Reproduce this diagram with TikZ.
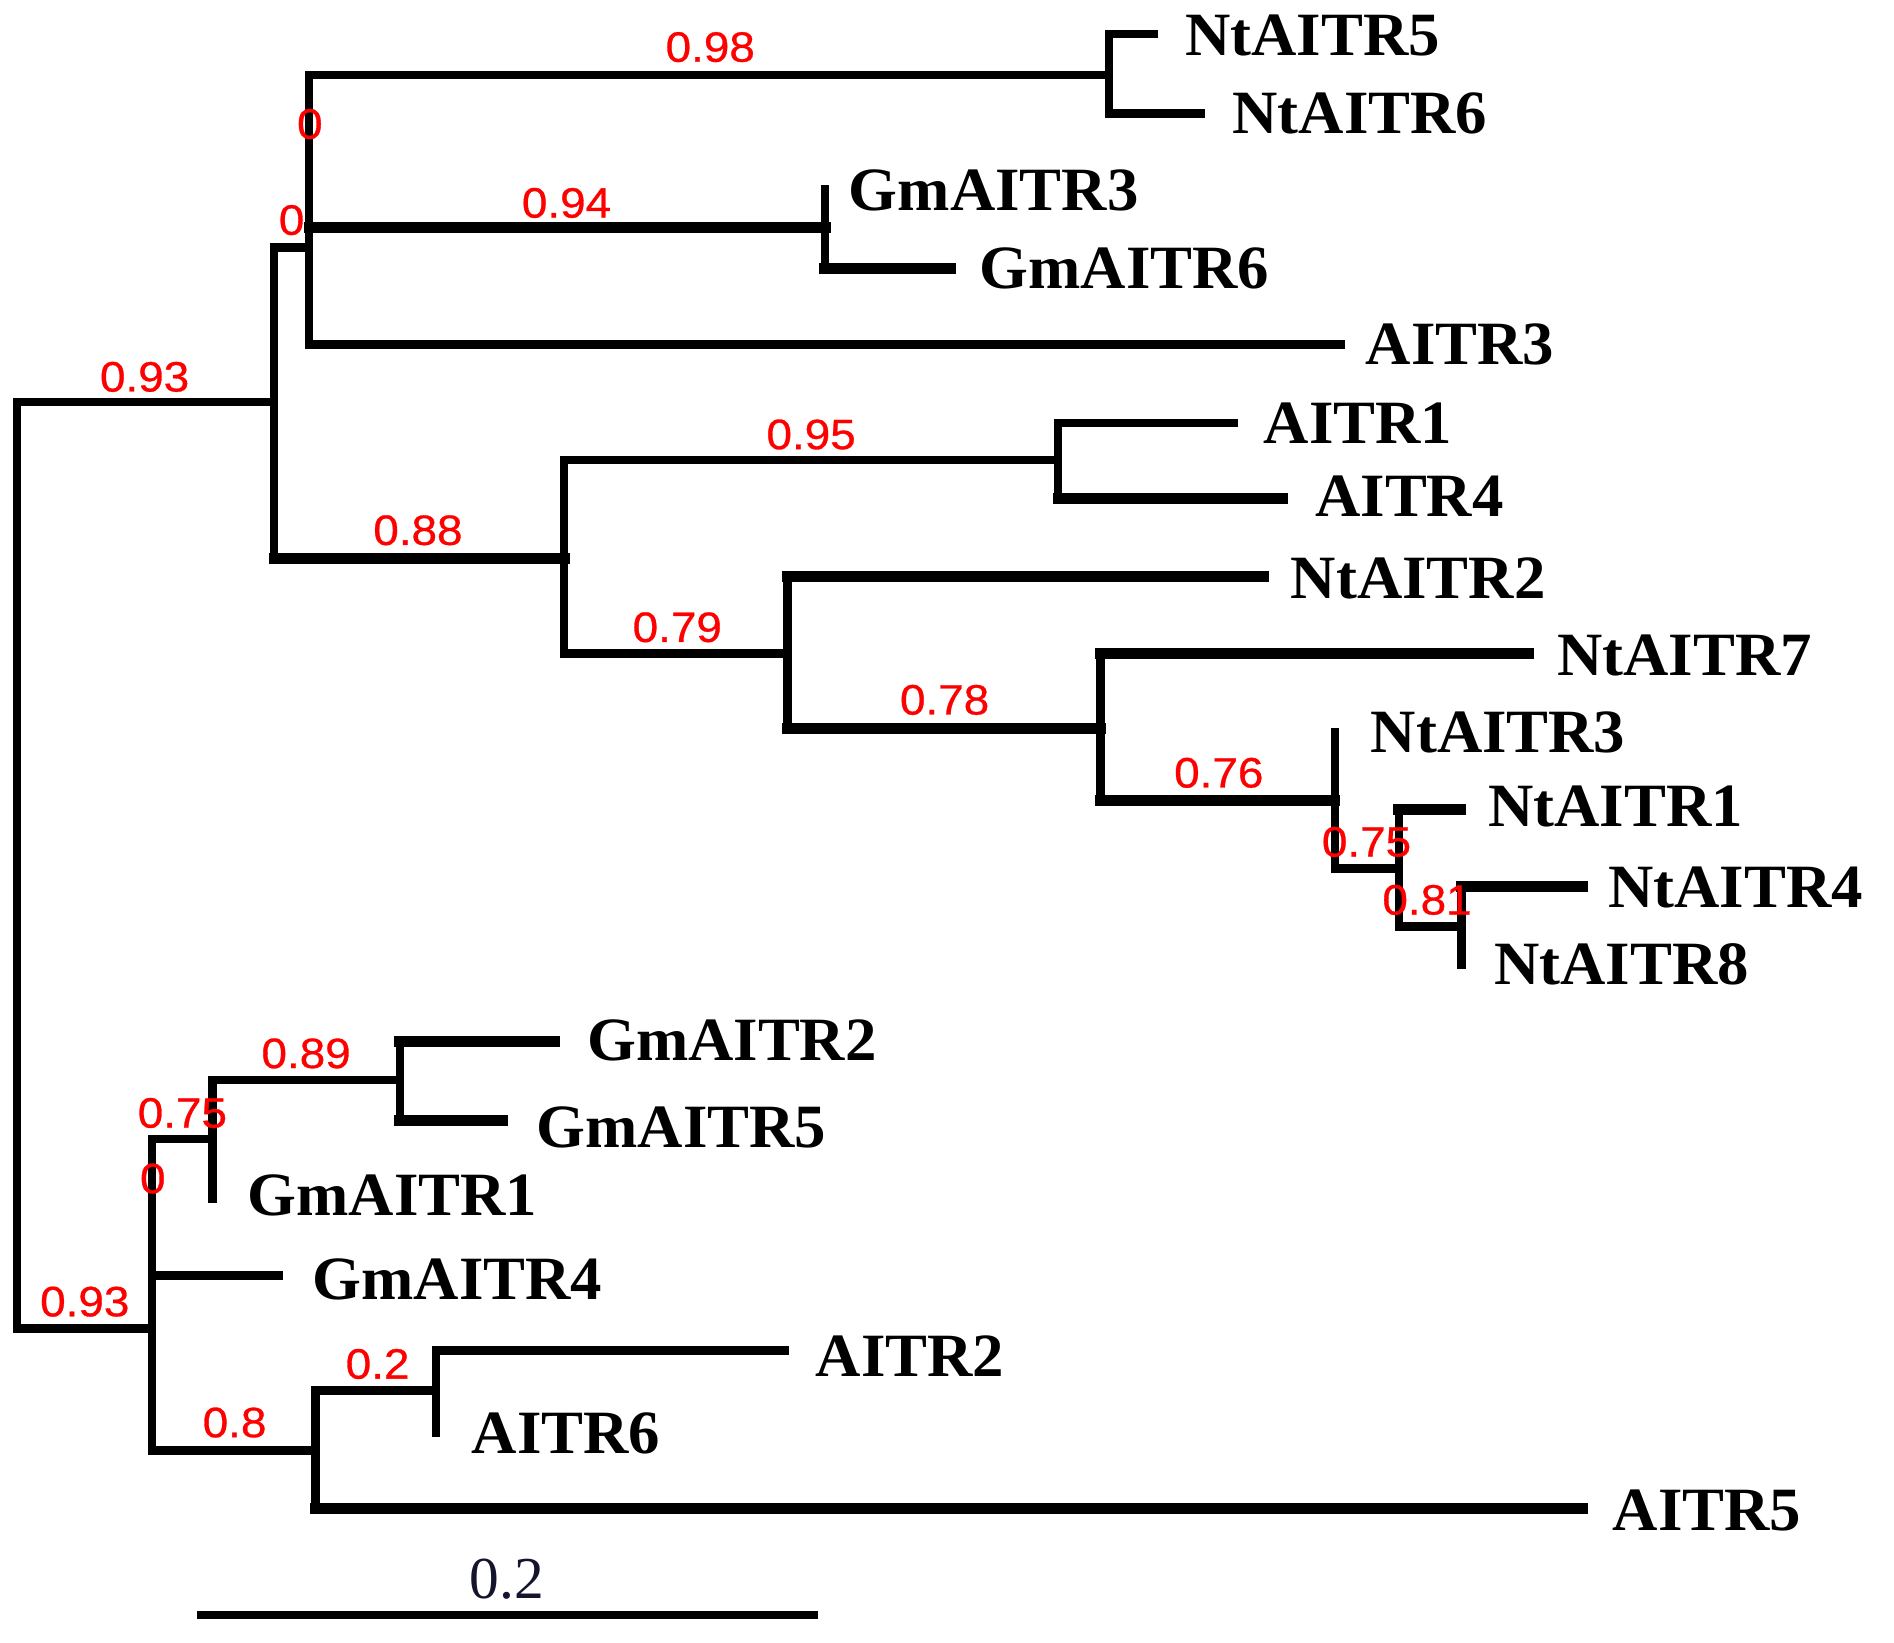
\documentclass[tikz,border=0pt]{standalone}
\usepackage{fontspec}
\setmainfont{Liberation Serif}
\newfontfamily\leaffont[FakeStretch=1.02]{Liberation Serif}
\newfontfamily\lblfont[FakeStretch=1.08,FakeBold=0.7]{Liberation Sans}
\definecolor{lblred}{RGB}{255,0,0}
\definecolor{scaleink}{rgb}{0.08,0.08,0.18}
\tikzset{
  br/.style={line width=4pt, line cap=rect, line join=miter},
  thickbr/.style={line width=5.2pt, line cap=rect},
  leaf/.style={anchor=west, inner sep=0pt, font=\leaffont\bfseries\fontsize{29}{29}\selectfont},
  supp/.style={anchor=center, inner sep=0pt, text=lblred, font=\lblfont\fontsize{20}{20}\selectfont},
  scalelbl/.style={anchor=center, inner sep=0pt, text=scaleink, font=\fontsize{28}{28}\selectfont}
}
\begin{document}
\begin{tikzpicture}[x=0.02cm, y=-0.02cm]
\useasboundingbox (0,0) rectangle (1568,1360);
\fill[white] (0,0) rectangle (1568,1360);
% internal nodes (x of vertical, y of incoming branch)
\coordinate (root) at (14,717);
\coordinate (A) at (227,333);
\coordinate (B) at (256,205);
\coordinate (N56) at (918,62);
\coordinate (G36) at (683,188);
\coordinate (C) at (467,462);
\coordinate (A14) at (876,381);
\coordinate (D) at (652,541);
\coordinate (E) at (911,603);
\coordinate (F) at (1105,663);
\coordinate (G) at (1158,719);
\coordinate (H) at (1210,767);
\coordinate (I) at (126,1100);
\coordinate (J) at (176,943);
\coordinate (K) at (331,894);
\coordinate (L) at (261,1201);
\coordinate (M) at (361,1151);
% leaf tips
\coordinate (tNt5) at (955,28);
\coordinate (tNt6) at (994,94);
\coordinate (tGm3) at (683,157);
\coordinate (tGm6) at (787,222);
\coordinate (tA3) at (1110,285);
\coordinate (tA1) at (1021,350);
\coordinate (tA4) at (1062,413);
\coordinate (tNt2) at (1046,477);
\coordinate (tNt7) at (1265,541);
\coordinate (tNt3) at (1105,606);
\coordinate (tNt1) at (1209,670);
\coordinate (tNt4) at (1310,734);
\coordinate (tNt8) at (1210,799);
\coordinate (tGm2) at (459,862);
\coordinate (tGm5) at (416,928);
\coordinate (tGm1) at (176,992);
\coordinate (tGm4) at (231,1056);
\coordinate (tA2) at (650,1118);
\coordinate (tA6) at (361,1186);
\coordinate (tA5) at (1310,1249);
% branches
\draw[br] (root) |- (A);
\draw[br] (root) |- (I);
\draw[br] (A) |- (B);
\draw[br] (A) |- (C);
\draw[br] (B) |- (N56);
\draw[br] (B) |- (G36);
\draw[br] (B) |- (tA3);
\draw[br] (N56) |- (tNt5);
\draw[br] (N56) |- (tNt6);
\draw[br] (G36) |- (tGm3);
\draw[br] (G36) |- (tGm6);
\draw[br] (C) |- (A14);
\draw[br] (C) |- (D);
\draw[br] (A14) |- (tA1);
\draw[br] (A14) |- (tA4);
\draw[br] (D) |- (tNt2);
\draw[br] (D) |- (E);
\draw[br] (E) |- (tNt7);
\draw[br] (E) |- (F);
\draw[br] (F) |- (tNt3);
\draw[br] (F) |- (G);
\draw[br] (G) |- (tNt1);
\draw[br] (G) |- (H);
\draw[br] (H) |- (tNt4);
\draw[br] (H) |- (tNt8);
\draw[br] (I) |- (J);
\draw[br] (I) |- (tGm4);
\draw[br] (I) |- (L);
\draw[br] (J) |- (K);
\draw[br] (J) |- (tGm1);
\draw[br] (K) |- (tGm2);
\draw[br] (K) |- (tGm5);
\draw[br] (L) |- (M);
\draw[br] (L) |- (tA5);
\draw[br] (M) |- (tA2);
\draw[br] (M) |- (tA6);
% heavier horizontal strokes
\draw[thickbr] (B |- G36) -- (G36);
\draw[thickbr] (G36 |- tGm6) -- (tGm6);
\draw[thickbr] (A |- C) -- (C);
\draw[thickbr] (A14 |- tA4) -- (tA4);
\draw[thickbr] (D |- tNt2) -- (tNt2);
\draw[thickbr] (D |- E) -- (E);
\draw[thickbr] (E |- F) -- (F);
\draw[thickbr] (E |- tNt7) -- (tNt7);
\draw[thickbr] (G |- tNt1) -- (tNt1);
\draw[thickbr] (H |- tNt4) -- (tNt4);
\draw[thickbr] (K |- tGm2) -- (tGm2);
\draw[thickbr] (K |- tGm5) -- (tGm5);
\draw[thickbr] (L |- tA5) -- (tA5);
% leaf labels
\node[leaf] (lNt5) at (981,29) {NtAITR5};
\node[leaf] (lNt6) at (1020,93.5) {NtAITR6};
\node[leaf] (lGm3) at (702.5,157.5) {GmAITR3};
\node[leaf] (lGm6) at (810.6,222.5) {GmAITR6};
\node[leaf] (lA3) at (1130.5,285.2) {AITR3};
\node[leaf] (lA1) at (1046,350) {AITR1};
\node[leaf] (lA4) at (1088.6,410.4) {AITR4};
\node[leaf] (lNt2) at (1068.3,478.6) {NtAITR2};
\node[leaf] (lNt7) at (1289,542.5) {NtAITR7};
\node[leaf] (lNt3) at (1134.5,606.4) {NtAITR3};
\node[leaf] (lNt1) at (1231.7,667.4) {NtAITR1};
\node[leaf] (lNt4) at (1331,734.8) {NtAITR4};
\node[leaf] (lNt8) at (1236.8,798.1) {NtAITR8};
\node[leaf] (lGm2) at (485.8,861) {GmAITR2};
\node[leaf] (lGm5) at (444.1,933.2) {GmAITR5};
\node[leaf] (lGm1) at (204.7,989.3) {GmAITR1};
\node[leaf] (lGm4) at (258.4,1058.8) {GmAITR4};
\node[leaf] (lA2) at (675,1122.4) {AITR2};
\node[leaf] (lA6) at (390.4,1186.8) {AITR6};
\node[leaf] (lA5) at (1334.9,1250.7) {AITR5};
% support values
\node[supp] (s1) at (588,39) {0.98};
\node[supp] (s2) at (256.5,102.7) {0};
\node[supp] (s3) at (241.4,182.2) {0};
\node[supp] (s4) at (469,168) {0.94};
\node[supp] (s5) at (119.7,312) {0.93};
\node[supp] (s6) at (671.5,359.7) {0.95};
\node[supp] (s7) at (346,439) {0.88};
\node[supp] (s8) at (560.7,519.3) {0.79};
\node[supp] (s9) at (782,579.4) {0.78};
\node[supp] (s10) at (1009,639.8) {0.76};
\node[supp] (s11) at (1131.3,697) {0.75};
\node[supp] (s12) at (1181.4,745) {0.81};
\node[supp] (s13) at (253.4,872.1) {0.89};
\node[supp] (s14) at (151,921.4) {0.75};
\node[supp] (s15) at (126.5,975.7) {0};
\node[supp] (s16) at (70.2,1077.6) {0.93};
\node[supp] (s17) at (312.6,1129.2) {0.2};
\node[supp] (s18) at (194.2,1177.7) {0.8};
% scale bar
\coordinate (sbL) at (163,1337);
\coordinate (sbR) at (677,1337);
\draw[line width=4pt] (sbL) -- (sbR);
\node[scalelbl] (sbT) at (419.5,1307.7) {0.2};
\end{tikzpicture}
\end{document}
